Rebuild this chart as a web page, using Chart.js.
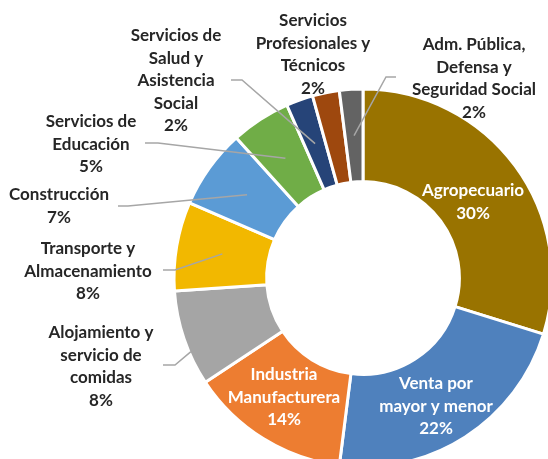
<!DOCTYPE html>
<html>
<head>
<meta charset="utf-8">
<script src="https://cdn.jsdelivr.net/npm/chart.js@4/dist/chart.umd.min.js"></script>
<style>
  html, body { margin: 0; padding: 0; background: #fff; overflow: hidden; }
  #wrap { width: 548px; height: 459px; position: relative; }
</style>
</head>
<body>
<div id="wrap"><canvas id="sectorChart" width="548" height="459"></canvas></div>
<script>
// sectores (etiquetas en varias líneas), en sentido horario desde arriba
const sectores = [
    ['Agropecuario'],
    ['Venta por', 'mayor y menor'],
    ['Industria', 'Manufacturera'],
    ['Alojamiento y', 'servicio de', 'comidas'],
    ['Transporte y', 'Almacenamiento'],
    ['Construcción'],
    ['Servicios de', 'Educación'],
    ['Servicios de', 'Salud y', 'Asistencia', 'Social'],
    ['Servicios', 'Profesionales y', 'Técnicos'],
    ['Adm. Pública,', 'Defensa y', 'Seguridad Social']
];
// participación estimada (%)
const participacion = [29.8, 22.2, 13.7, 8.2, 7.6, 6.8, 5.1, 2.3, 2.3, 2.0];
// porcentajes tal como aparecen en las etiquetas
const porcentajes = ['30%', '22%', '14%', '8%', '8%', '7%', '5%', '2%', '2%', '2%'];
const colores = ['#997300', '#4F81BD', '#ED7D31', '#A5A5A5', '#F2B800',
                 '#5B9BD5', '#70AD47', '#264478', '#9E480E', '#636363'];

// ubicación de cada etiqueta y su línea guía (sx, sy: inicio; kx: quiebre; rf: radio relativo; t: posición en el arco)
const ubicacion = [
    { x: 473, y: 191, color: '#ffffff' },
    { x: 436, y: 384, color: '#ffffff' },
    { x: 284, y: 375, color: '#ffffff' },
    { x: 101, y: 333, color: '#262626', guia: { sx: 163, sy: 365, kx: 175, rf: 0.98, t: 0.35 } },
    { x: 88, y: 249, color: '#262626', guia: { sx: 163, sy: 270, kx: 175, rf: 0.5, t: 0.5 } },
    { x: 59, y: 195, color: '#262626', guia: { sx: 118, sy: 206, kx: 128, rf: 0.5, t: 0.5 } },
    { x: 91, y: 122, color: '#262626', guia: { sx: 145, sy: 143, kx: 158, rf: 0.5, t: 0.5 } },
    { x: 176, y: 36, color: '#262626', guia: { sx: 231, sy: 80, kx: 242, rf: 0.5, t: 0.5 } },
    { x: 313, y: 21, color: '#262626' },
    { x: 474, y: 45, color: '#262626', guia: { sx: 396, sy: 77, kx: 386, rf: 0.5, t: 0.5 } }
];

const etiquetasPlugin = {
    id: 'etiquetas',
    afterDatasetsDraw(chart) {
        const ctx = chart.ctx;
        const arcs = chart.getDatasetMeta(0).data;
        const lineH = 22.4;
        ctx.save();
        arcs.forEach((arc, i) => {
            const u = ubicacion[i];
            if (u.guia) {
                const g = u.guia;
                const ang = arc.startAngle + g.t * (arc.endAngle - arc.startAngle);
                const r = arc.innerRadius + g.rf * (arc.outerRadius - arc.innerRadius);
                ctx.beginPath();
                ctx.moveTo(g.sx, g.sy);
                ctx.lineTo(g.kx, g.sy);
                ctx.lineTo(arc.x + r * Math.cos(ang), arc.y + r * Math.sin(ang));
                ctx.strokeStyle = '#A6A6A6';
                ctx.lineWidth = 1.5;
                ctx.stroke();
            }
            const lineas = sectores[i].concat([porcentajes[i]]);
            ctx.fillStyle = u.color;
            ctx.font = 'bold 17px Lato';
            ctx.textAlign = 'center';
            ctx.textBaseline = 'middle';
            lineas.forEach((txt, k) => ctx.fillText(txt, u.x, u.y + k * lineH));
        });
        ctx.restore();
    }
};

const ctx = document.getElementById('sectorChart').getContext('2d');
new Chart(ctx, {
    type: 'doughnut',
    data: {
        labels: sectores,
        datasets: [{
            data: participacion,
            backgroundColor: colores,
            borderColor: '#ffffff',
            borderWidth: 3,
            clip: false
        }]
    },
    options: {
        responsive: false,
        animation: false,
        events: [],
        radius: 189,
        cutout: '51%',
        layout: { padding: { left: 178, right: 0, top: 97, bottom: 0 } },
        plugins: {
            legend: { display: false },
            tooltip: { enabled: false }
        }
    },
    plugins: [etiquetasPlugin]
});
</script>
</body>
</html>
